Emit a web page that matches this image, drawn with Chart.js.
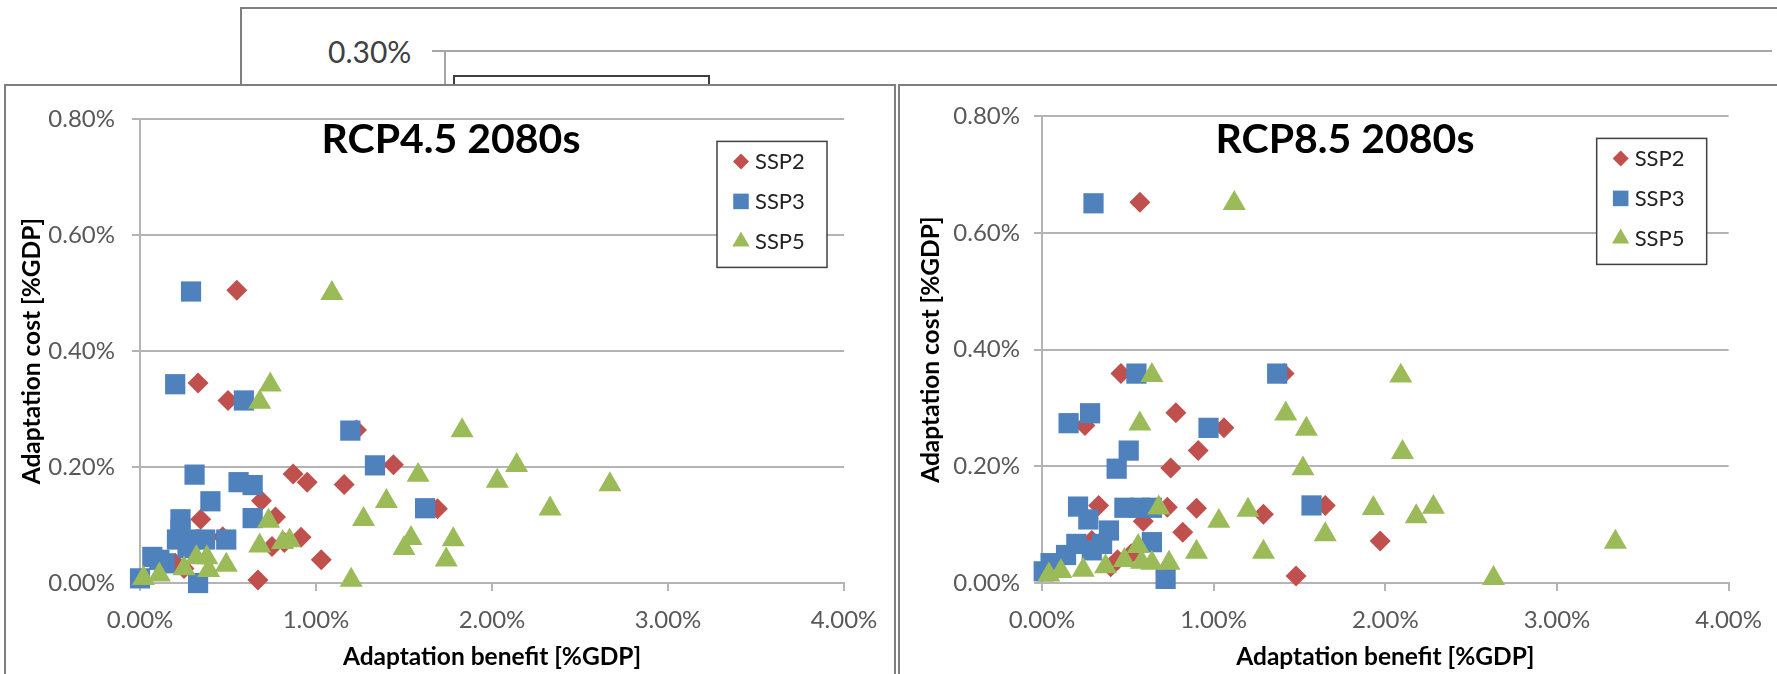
<!DOCTYPE html>
<html>
<head>
<meta charset="utf-8">
<script src="https://cdn.jsdelivr.net/npm/chart.js@4.4.0/dist/chart.umd.min.js"></script>
<style>
  html, body { margin: 0; padding: 0; background: #fff; }
  body { width: 1777px; height: 674px; overflow: hidden; position: relative; font-family: Lato, "Open Sans", sans-serif; }
  .abs { position: absolute; box-sizing: border-box; }
  #back-frame { left: 240px; top: 7px; width: 1600px; height: 120px; border-top: 2px solid #7f7f7f; border-left: 2px solid #7f7f7f; }
  #back-label { left: 328px; top: 51px; font-size: 30px; color: #404040; transform: translateY(-50%); }
  #back-grid { left: 432px; top: 50px; width: 1340px; height: 2px; background: #a6a6a6; }
  #back-axis { left: 444px; top: 50px; width: 2px; height: 40px; background: #a6a6a6; }
  #back-box { left: 453px; top: 75px; width: 257px; height: 40px; border: 2px solid #404040; }
  .panel { top: 84px; height: 620px; border: 2px solid #7f7f7f; background: #fff; }
  #panel-left { left: 4px; width: 892px; }
  #panel-right { left: 898px; width: 900px; }
  canvas { position: absolute; }
  #chart45 { left: 7px; top: 88px; }
  #chart85 { left: 901px; top: 88px; }
  .ttl { position: absolute; top: 137px; font-weight: bold; font-size: 41px; color: #000; transform: translate(-50%, -50%); white-space: nowrap; }
</style>
</head>
<body>
<div id="back-frame" class="abs"></div>
<div id="back-grid" class="abs"></div>
<div id="back-axis" class="abs"></div>
<div id="back-box" class="abs"></div>
<div id="back-label" class="abs">0.30%</div>
<div id="panel-left" class="abs panel"></div>
<div id="panel-right" class="abs panel"></div>
<canvas id="chart45" width="886" height="586" style="width:886px;height:586px"></canvas>
<canvas id="chart85" width="876" height="586" style="width:876px;height:586px"></canvas>
<div class="ttl" style="left:451px">RCP4.5 2080s</div>
<div class="ttl" style="left:1345px">RCP8.5 2080s</div>

<script>
const red = '#C0504D';
const blue = '#4F81BD';
const green = '#9BBB59';

const seriesNames = ['SSP2', 'SSP3', 'SSP5'];
const xTickValues = [0, 1, 2, 3, 4];          // Adaptation benefit [%GDP]
const yTickValues = [0, 0.2, 0.4, 0.6, 0.8];  // Adaptation cost [%GDP]

// RCP4.5 2080s
const rcp45Ssp2X = [0.55, 0.33, 0.50, 1.23, 1.44, 0.87, 0.95, 1.16, 0.69, 0.345, 0.77, 1.69, 0.915, 0.82, 0.75, 1.03, 0.67, 0.20, 0.47, 0.25];
const rcp45Ssp2Y = [0.505, 0.345, 0.315, 0.264, 0.204, 0.188, 0.174, 0.170, 0.142, 0.110, 0.114, 0.128, 0.079, 0.070, 0.063, 0.040, 0.005, 0.034, 0.080, 0.025];
const rcp45Ssp3X = [0.29, 0.20, 0.59, 1.195, 1.335, 0.31, 0.56, 0.64, 0.40, 1.62, 0.23, 0.64, 0.21, 0.29, 0.37, 0.49, 0.23, 0.00, 0.07, 0.14, 0.33, 0.11, 0.27];
const rcp45Ssp3Y = [0.503, 0.343, 0.315, 0.263, 0.203, 0.187, 0.174, 0.169, 0.141, 0.129, 0.110, 0.112, 0.075, 0.075, 0.075, 0.075, 0.092, 0.008, 0.045, 0.034, 0.000, 0.040, 0.060];
const rcp45Ssp5X = [1.09, 0.74, 0.68, 1.83, 2.14, 1.58, 2.03, 2.67, 1.40, 2.33, 1.27, 0.73, 1.54, 1.50, 1.78, 1.74, 1.20, 0.85, 0.81, 0.68, 0.02, 0.11, 0.25, 0.32, 0.38, 0.39, 0.49];
const rcp45Ssp5Y = [0.500, 0.342, 0.312, 0.263, 0.203, 0.186, 0.176, 0.170, 0.141, 0.128, 0.110, 0.107, 0.077, 0.060, 0.075, 0.040, 0.005, 0.073, 0.070, 0.064, 0.008, 0.014, 0.025, 0.044, 0.044, 0.022, 0.031];

// RCP8.5 2080s
const rcp85Ssp2X = [0.57, 0.46, 1.41, 0.25, 0.78, 1.06, 0.91, 0.75, 0.33, 0.73, 0.90, 0.59, 1.29, 1.65, 0.82, 1.97, 1.48, 0.29, 0.44, 0.52, 0.40];
const rcp85Ssp2Y = [0.653, 0.359, 0.359, 0.270, 0.292, 0.266, 0.227, 0.197, 0.133, 0.130, 0.128, 0.106, 0.118, 0.133, 0.087, 0.072, 0.012, 0.073, 0.040, 0.050, 0.028];
const rcp85Ssp3X = [0.30, 0.55, 1.37, 0.155, 0.28, 0.97, 0.505, 0.435, 0.21, 0.27, 0.48, 0.57, 0.64, 1.57, 0.64, 0.39, 0.35, 0.29, 0.20, 0.14, 0.72, 0.01, 0.05];
const rcp85Ssp3Y = [0.651, 0.359, 0.359, 0.274, 0.291, 0.266, 0.227, 0.196, 0.131, 0.109, 0.129, 0.129, 0.129, 0.133, 0.070, 0.090, 0.067, 0.056, 0.067, 0.048, 0.007, 0.020, 0.034];
const rcp85Ssp5X = [1.12, 0.64, 2.09, 0.57, 1.42, 1.54, 2.10, 1.52, 0.68, 1.20, 1.93, 2.28, 2.18, 1.03, 1.65, 0.90, 1.29, 3.34, 2.63, 0.04, 0.11, 0.24, 0.37, 0.48, 0.56, 0.58, 0.64, 0.74];
const rcp85Ssp5Y = [0.651, 0.356, 0.355, 0.273, 0.290, 0.264, 0.224, 0.196, 0.129, 0.125, 0.128, 0.130, 0.114, 0.106, 0.083, 0.053, 0.053, 0.070, 0.008, 0.014, 0.020, 0.022, 0.028, 0.039, 0.063, 0.036, 0.034, 0.034];

const styles = [
  {color: red, pointStyle: 'rectRot', radius: 10.5, legendRadius: 8},
  {color: blue, pointStyle: 'rect', radius: 14.3, legendRadius: 11},
  {color: green, pointStyle: 'triangle', radius: 13.3, legendRadius: 10},
];

const gridGrey = '#b4b4b4';
const tickFont = {family: 'Lato', size: 24};
const titleFont = {family: 'Lato', size: 24.5, weight: 'bold'};

function zip(xs, ys) {
  return xs.map((x, i) => ({x: x, y: ys[i]}));
}

// legend with a framed box, drawn inside the plot area
const boxLegend = {
  id: 'boxLegend',
  afterDraw(chart, args, opts) {
    const {ctx, chartArea} = chart;
    const left = chartArea.right - opts.right - opts.width;
    const top = chartArea.top + opts.top;
    ctx.save();
    ctx.fillStyle = '#fff';
    ctx.fillRect(left, top, opts.width, opts.height);
    ctx.strokeStyle = '#404040';
    ctx.lineWidth = 1.5;
    ctx.strokeRect(left, top, opts.width, opts.height);
    ctx.font = '22px Lato';
    ctx.textBaseline = 'middle';
    chart.data.datasets.forEach((ds, i) => {
      const cy = top + opts.firstRow + i * opts.rowGap;
      ctx.fillStyle = ds.backgroundColor;
      Chart.helpers.drawPoint(ctx, {pointStyle: ds.pointStyle, radius: styles[i].legendRadius, borderWidth: 0, rotation: 0},
        left + opts.markerX, cy);
      ctx.fillStyle = '#222';
      ctx.fillText(ds.label, left + opts.textX, cy + 1);
    });
    ctx.restore();
  }
};

function makeChart(id, xsList, ysList, geo) {
  const datasets = seriesNames.map((name, i) => ({
    label: name,
    data: zip(xsList[i], ysList[i]),
    backgroundColor: styles[i].color,
    borderColor: styles[i].color,
    borderWidth: 0,
    pointStyle: styles[i].pointStyle,
    pointRadius: styles[i].radius,
    pointHoverRadius: styles[i].radius,
    order: 3 - i,
    clip: false,
  }));

  return new Chart(document.getElementById(id), {
    type: 'scatter',
    data: {datasets: datasets},
    plugins: [boxLegend],
    options: {
      responsive: false,
      animation: false,
      layout: {padding: {left: 0, right: geo.padRight, top: 18, bottom: 0}},
      plugins: {
        legend: {display: false},
        tooltip: {enabled: false},
        boxLegend: {right: geo.legendRight, top: 22, width: 110, height: 126, firstRow: 20, rowGap: 40, markerX: 24, textX: 38},
      },
      scales: {
        x: {
          type: 'linear',
          min: xTickValues[0],
          max: xTickValues[xTickValues.length - 1],
          afterFit: s => { s.height = 91; },
          afterBuildTicks: s => { s.ticks = xTickValues.map(v => ({value: v})); },
          ticks: {
            font: tickFont, color: '#595959', padding: 15, maxRotation: 0,
            callback: v => v.toFixed(2) + '%',
          },
          grid: {drawOnChartArea: false, drawTicks: true, tickLength: 8, color: gridGrey, lineWidth: 2},
          border: {display: true, color: gridGrey, width: 2},
          title: {display: true, text: 'Adaptation benefit [%GDP]', font: titleFont, color: '#000', padding: {top: 0, bottom: 2}},
        },
        y: {
          type: 'linear',
          min: yTickValues[0],
          max: yTickValues[yTickValues.length - 1],
          afterFit: s => { s.width = geo.yWidth; },
          afterBuildTicks: s => { s.ticks = yTickValues.map(v => ({value: v})); },
          ticks: {
            font: tickFont, color: '#595959', padding: geo.yPad,
            callback: v => v.toFixed(2) + '%',
          },
          grid: {color: gridGrey, lineWidth: 2, tickLength: 8},
          border: {display: true, color: gridGrey, width: 2},
          title: {display: true, text: 'Adaptation cost [%GDP]', font: titleFont, color: '#000', padding: {top: geo.yTitlePad, bottom: 0}},
        },
      },
    },
  });
}

makeChart('chart45',
  [rcp45Ssp2X, rcp45Ssp3X, rcp45Ssp5X],
  [rcp45Ssp2Y, rcp45Ssp3Y, rcp45Ssp5Y],
  {padRight: 49, yWidth: 133, yPad: 17, yTitlePad: 10, legendRight: 17});

makeChart('chart85',
  [rcp85Ssp2X, rcp85Ssp3X, rcp85Ssp5X],
  [rcp85Ssp2Y, rcp85Ssp3Y, rcp85Ssp5Y],
  {padRight: 33, yWidth: 141, yPad: 14, yTitlePad: 15, legendRight: 22});
</script>
</body>
</html>
